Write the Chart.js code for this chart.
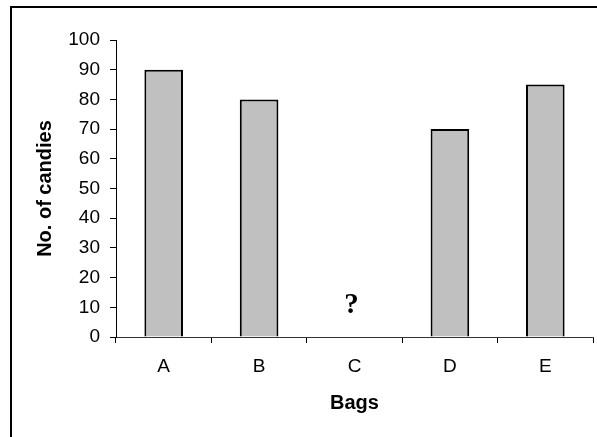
<!DOCTYPE html>
<html>
<head>
<meta charset="utf-8">
<script src="https://cdn.jsdelivr.net/npm/chart.js@4"></script>
<style>
  html, body { margin: 0; padding: 0; background: #fff; }
  #wrap { width: 597px; height: 437px; position: relative; }
</style>
</head>
<body>
<div id="wrap"><canvas id="chart"></canvas></div>
<script>
// ---------------- Data ----------------
const bags = ["A", "B", "C", "D", "E"];
const candies = [90, 80, null, 70, 85];
const missingBag = "C";
const missingMarkValue = 10.5; // where the "?" sits on the y scale

const FONT = "'Liberation Sans', Arial, sans-serif";

// outer frame (only top and left edges fall inside the picture)
const framePlugin = {
  id: "frame",
  beforeDraw(chart) {
    const c = chart.ctx;
    c.save();
    c.fillStyle = "#fff";
    c.fillRect(0, 0, chart.width, chart.height);
    c.strokeStyle = "#000";
    c.lineWidth = 2;
    c.beginPath();
    c.moveTo(11, chart.height);
    c.lineTo(11, 7);
    c.lineTo(chart.width, 7);
    c.stroke();
    c.restore();
  },
};

// "?" over the missing bag
const questionPlugin = {
  id: "question",
  afterDatasetsDraw(chart) {
    const { x, y } = chart.scales;
    const c = chart.ctx;
    c.save();
    c.fillStyle = "#000";
    c.font = "bold 29px 'Liberation Serif', 'Times New Roman', serif";
    c.textAlign = "center";
    c.textBaseline = "middle";
    c.fillText("?", x.getPixelForValue(bags.indexOf(missingBag)) - 3, y.getPixelForValue(missingMarkValue));
    c.restore();
  },
};

new Chart(document.getElementById("chart"), {
  type: "bar",
  data: {
    labels: bags,
    datasets: [
      {
        data: candies,
        backgroundColor: "#C0C0C0",
        borderColor: "#000",
        borderWidth: 2,
        categoryPercentage: 1,
        barPercentage: 0.405,
      },
    ],
  },
  options: {
    responsive: true,
    maintainAspectRatio: false,
    animation: false,
    layout: { padding: { left: 0, top: 40, right: 4, bottom: 0 } },
    plugins: { legend: { display: false }, tooltip: { enabled: false } },
    scales: {
      x: {
        grid: {
          offset: true,
          drawOnChartArea: false,
          drawTicks: true,
          tickLength: 6,
          color: "#000",
        },
        border: { color: "#333", width: 1 },
        ticks: { color: "#000", font: { family: FONT, size: 19 }, padding: 12 },
        title: {
          display: true,
          text: "Bags",
          color: "#000",
          font: { family: FONT, size: 20, weight: "bold" },
          padding: { top: 0, bottom: 22 },
        },
        afterFit(scale) {
          scale.height = 100;
        },
      },
      y: {
        min: 0,
        max: 100,
        grid: {
          drawOnChartArea: false,
          drawTicks: true,
          tickLength: 6,
          color: "#000",
        },
        border: { color: "#000", width: 1 },
        ticks: { stepSize: 10, color: "#000", font: { family: FONT, size: 19 }, padding: 10 },
        title: {
          display: true,
          text: "No. of candies",
          color: "#000",
          font: { family: FONT, size: 20, weight: "bold" },
          padding: { top: 33, bottom: 0 },
        },
        afterFit(scale) {
          scale.width = 116;
        },
      },
    },
  },
  plugins: [framePlugin, questionPlugin],
});
</script>
</body>
</html>
